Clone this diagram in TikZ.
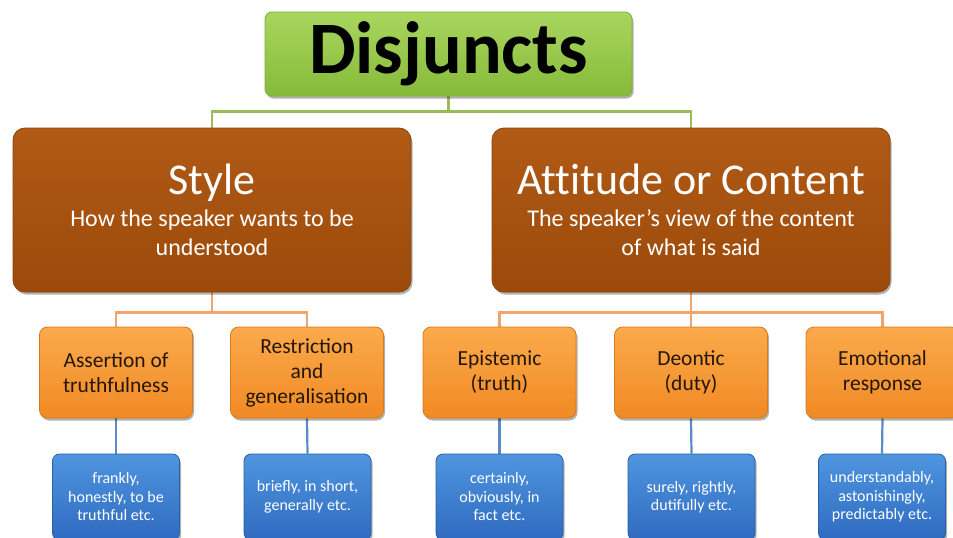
\documentclass[tikz,border=0pt]{standalone}
\usepackage{fontspec}
\setmainfont{Carlito}
\usetikzlibrary{shadows,backgrounds}
\definecolor{gTop}{HTML}{A9D65E}
\definecolor{gBot}{HTML}{86BA3A}
\definecolor{gBrd}{HTML}{7FAE3C}
\definecolor{brTop}{HTML}{B05A16}
\definecolor{brBot}{HTML}{9C4A0A}
\definecolor{brBrd}{HTML}{8E430A}
\definecolor{oTop}{HTML}{FBAA4C}
\definecolor{oBot}{HTML}{F08A24}
\definecolor{oBrd}{HTML}{D9791C}
\definecolor{bTop}{HTML}{4F95DF}
\definecolor{bBot}{HTML}{2F6BC0}
\definecolor{bBrd}{HTML}{2A5FA8}
\definecolor{gLine}{HTML}{9BBB59}
\definecolor{oLine}{HTML}{F2A46A}
\definecolor{bLine}{HTML}{5A8AC8}
\definecolor{oText}{HTML}{24160A}
\tikzset{
  shade/.style={drop shadow={shadow xshift=1.5pt,shadow yshift=-2.5pt,opacity=0.3,fill=black}},
  topbox/.style={shade,rounded corners=7pt,minimum width=367pt,minimum height=84pt,inner sep=0pt,
    top color=gTop,bottom color=gBot,draw=gBrd,line width=0.8pt,
    font=\fontsize{74}{80}\selectfont\bfseries,text=black},
  midbox/.style={shade,rounded corners=12pt,minimum width=398pt,minimum height=164pt,inner sep=0pt,
    top color=brTop,bottom color=brBot,draw=brBrd,line width=0.8pt,
    align=center,text=white,font=\fontsize{24}{29.5}\selectfont},
  catbox/.style={shade,rounded corners=8pt,minimum width=153pt,minimum height=91pt,inner sep=0pt,
    top color=oTop,bottom color=oBot,draw=oBrd,line width=0.8pt,
    align=center,text=oText,font=\fontsize{21.5}{25}\selectfont},
  exbox/.style={shade,rounded corners=7pt,minimum width=127pt,minimum height=86pt,inner sep=0pt,
    top color=bTop,bottom color=bBot,draw=bBrd,line width=0.8pt,
    align=center,text=white,font=\fontsize{16}{18.5}\selectfont},
  gl/.style={draw=gLine,line width=2.2pt},
  ol/.style={draw=oLine,line width=2.2pt},
  bl/.style={draw=bLine,line width=2.2pt}
}
\begin{document}
\begin{tikzpicture}[x=1pt,y=-1pt]
\useasboundingbox (0,0) rectangle (953,538);
\clip (0,0) rectangle (953,538);
\node[topbox] (top) at (448.5,54) {Disjuncts};
\node[midbox] (style) at (212,210) {{\fontsize{44}{44}\selectfont Style}\\[2pt]How the speaker wants to be\\understood};
\node[midbox] (att) at (691,210) {{\fontsize{44}{44}\selectfont\addfontfeatures{Ligatures=NoCommon}Attitude or Content}\\[2pt]The speaker’s view of the content\\of what is said};
\node[catbox] (o1) at (116,372.5) {Assertion of\\truthfulness};
\node[catbox] (o2) at (307,372.5) {Restriction\\and\\generalisation};
\node[catbox] (o3) at (499.5,372.5) {Epistemic\\(truth)};
\node[catbox] (o4) at (691,372.5) {Deontic\\(duty)};
\node[catbox] (o5) at (882.5,372.5) {Emotional\\response};
\node[exbox] (b1) at (116,497) {frankly,\\honestly, to be\\truthful etc.};
\node[exbox] (b2) at (307.5,497) {briefly, in short,\\generally etc.};
\node[exbox] (b3) at (499.5,497) {certainly,\\obviously, in\\fact etc.};
\node[exbox] (b4) at (691.5,497) {surely, rightly,\\dutifully etc.};
\node[exbox] (b5) at (882,497) {understandably,\\astonishingly,\\predictably etc.};
\begin{scope}[on background layer]
\draw[gl] (top.south) -- ++(0,15) -| (style.north);
\draw[gl] (top.south) -- ++(0,15) -| (att.north);
\draw[ol] (style.south) -- ++(0,20) -| (o1.north);
\draw[ol] (style.south) -- ++(0,20) -| (o2.north);
\draw[ol] (att.south) -- ++(0,20) -| (o3.north);
\draw[ol] (att.south) -- (o4.north);
\draw[ol] (att.south) -- ++(0,20) -| (o5.north);
\draw[bl] (o1.south) -- (b1.north);
\draw[bl] (o2.south) -- (b2.north);
\draw[bl] (o3.south) -- (b3.north);
\draw[bl] (o4.south) -- (b4.north);
\draw[bl] (o5.south) -- (b5.north);
\end{scope}
\end{tikzpicture}
\end{document}
